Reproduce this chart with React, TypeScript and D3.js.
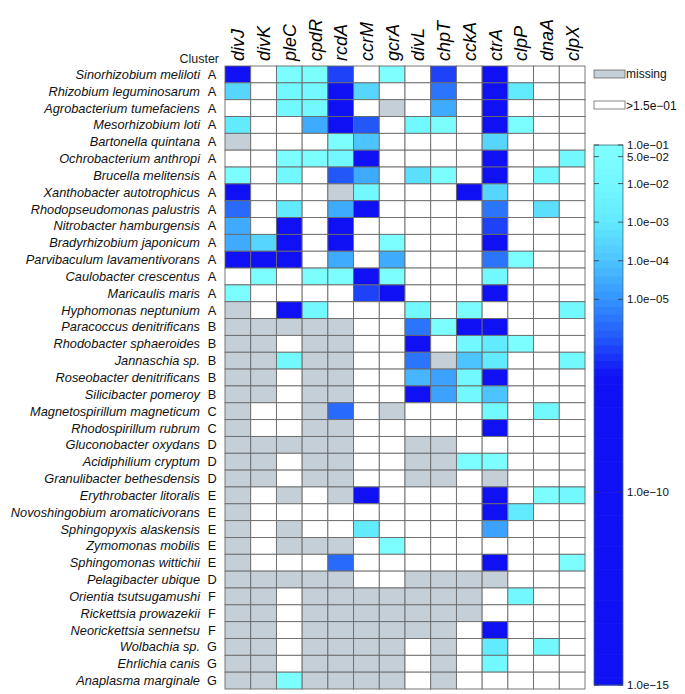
import React from "react";
import * as d3 from "d3";

const genes = ["divJ", "divK", "pleC", "cpdR", "rcdA", "ccrM", "gcrA", "divL", "chpT", "cckA", "ctrA", "clpP", "dnaA", "clpX"];

const species = [
  "Sinorhizobium meliloti", "Rhizobium leguminosarum", "Agrobacterium tumefaciens", "Mesorhizobium loti",
  "Bartonella quintana", "Ochrobacterium anthropi", "Brucella melitensis", "Xanthobacter autotrophicus",
  "Rhodopseudomonas palustris", "Nitrobacter hamburgensis", "Bradyrhizobium japonicum", "Parvibaculum lavamentivorans",
  "Caulobacter crescentus", "Maricaulis maris", "Hyphomonas neptunium", "Paracoccus denitrificans",
  "Rhodobacter sphaeroides", "Jannaschia sp.", "Roseobacter denitrificans", "Silicibacter pomeroy",
  "Magnetospirillum magneticum", "Rhodospirillum rubrum", "Gluconobacter oxydans", "Acidiphilium cryptum",
  "Granulibacter bethesdensis", "Erythrobacter litoralis", "Novoshingobium aromaticivorans", "Sphingopyxis alaskensis",
  "Zymomonas mobilis", "Sphingomonas wittichii", "Pelagibacter ubique", "Orientia tsutsugamushi",
  "Rickettsia prowazekii", "Neorickettsia sennetsu", "Wolbachia sp.", "Ehrlichia canis", "Anaplasma marginale",
];

const clusters = [
  "A", "A", "A", "A", "A", "A", "A", "A", "A", "A", "A", "A", "A", "A", "A",
  "B", "B", "B", "B", "B", "C", "C", "D", "D", "D", "E", "E", "E", "E", "E",
  "D", "F", "F", "F", "G", "G", "G",
];

// M = gene missing, _ = not significant (> 1.5e-01), numbers = p-values
const M = "m";
const _ = null;
const pvalues: (number | string | null)[][] = [
  [1e-10, _, 5e-2, 5e-2, 5e-7, _, 9e-2, _, 5e-7, _, 1e-10, _, _, _],
  [3e-4, _, 1e-2, 1e-2, 1e-10, 3e-4, _, _, 3e-6, _, 1e-10, 1e-3, _, _],
  [_, _, 1e-2, 1e-2, 1e-10, _, M, _, 3e-5, _, 1e-10, _, _, _],
  [1e-3, _, _, 3e-5, 1e-10, 1e-6, _, 1e-2, 5e-2, _, 1e-10, 5e-2, _, _],
  [M, _, _, _, 5e-2, 1e-4, _, _, _, _, 3e-4, _, _, _],
  [_, _, 5e-2, 5e-2, 1e-2, 1e-10, _, _, _, _, 1e-10, _, _, 1e-2],
  [5e-2, _, 1e-2, _, 1e-6, 3e-5, _, 5e-4, 5e-2, _, 1e-10, _, 1e-2, _],
  [1e-10, _, _, _, M, 1e-2, _, _, _, 1e-10, 3e-4, _, _, _],
  [2e-6, _, 1e-3, _, 3e-5, 1e-7, _, _, _, _, 3e-6, _, 5e-4, _],
  [3e-5, _, 1e-10, _, 1e-10, _, _, _, _, _, 5e-7, _, _, _],
  [3e-5, 3e-4, 1e-10, _, 1e-10, _, 5e-2, _, _, _, 1e-10, _, _, _],
  [1e-10, 1e-8, 1e-10, _, 3e-5, _, 3e-5, _, _, _, 3e-6, 5e-2, _, _],
  [_, 5e-2, _, 5e-2, 5e-2, 1e-10, 5e-2, _, _, _, 1e-2, _, _, _],
  [5e-2, _, _, _, _, 5e-7, 1e-10, _, _, _, 1e-10, _, _, _],
  [M, _, 1e-10, 1e-2, _, _, _, 1e-2, _, 3e-2, _, _, _, 1e-2],
  [M, M, M, M, M, _, _, 3e-6, 5e-2, 1e-10, 1e-10, _, _, _],
  [M, M, _, M, M, _, _, 1e-10, _, 1e-2, 1e-3, 5e-2, _, _],
  [M, M, 1e-2, M, M, _, _, 3e-6, M, 1e-4, 1e-3, _, _, 1e-2],
  [M, M, _, M, M, _, _, 5e-5, 2e-5, 1e-2, 1e-10, _, _, _],
  [M, M, _, M, M, _, _, 1e-10, 2e-5, 1e-2, 1e-4, _, _, _],
  [M, _, _, M, 2e-6, _, M, _, _, _, 1e-2, _, 1e-2, _],
  [M, _, _, M, M, _, _, _, _, _, 1e-10, _, _, _],
  [M, M, M, M, M, _, _, M, M, _, _, _, _, _],
  [M, M, _, M, M, _, _, M, M, 5e-2, 5e-2, _, _, _],
  [M, M, _, M, M, _, _, M, M, _, M, _, _, _],
  [M, _, M, _, M, 1e-10, _, _, _, _, 1e-10, _, 5e-2, 1e-2],
  [M, _, _, _, _, _, _, _, _, _, 1e-10, 1e-3, _, _],
  [M, _, M, _, _, 1e-3, _, _, _, _, 2e-5, _, _, _],
  [M, _, M, M, M, _, 5e-2, _, _, _, _, _, _, _],
  [M, _, _, _, 2e-6, _, _, _, _, _, 1e-10, _, _, 5e-2],
  [M, M, M, M, M, _, _, M, M, M, M, _, _, _],
  [M, M, _, M, M, M, M, M, M, M, _, 1e-2, _, _],
  [M, M, _, M, M, M, M, M, M, M, _, _, _, _],
  [M, M, _, M, M, M, M, M, M, _, 1e-10, _, _, _],
  [M, M, _, M, M, M, M, _, M, _, 1e-3, _, 1e-2, _],
  [M, M, _, M, M, M, M, _, M, _, 1e-2, _, _, _],
  [M, M, 5e-2, M, M, M, M, _, M, _, _, _, _, _],
];

const legendTicks = [1e-1, 5e-2, 1e-2, 1e-3, 1e-4, 1e-5, 1e-10, 1e-15];

const FONT = "'Liberation Sans', Arial, Helvetica, sans-serif";
const MISSING = "#c4cfd8";

// cyan -> blue, on log10(p)
const color = d3
  .scaleLinear<string>()
  .domain([-1, -2, -3, -4, -5, -6, -7])
  .range(["#80ffff", "#72f8ff", "#62eaff", "#4cc4ff", "#3494ff", "#2258fa", "#1010f5"])
  .clamp(true);

function cellFill(v: number | string | null) {
  if (v === M) return MISSING;
  if (v == null) return "#ffffff";
  return color(Math.log10(v as number));
}

export default function App() {
  const width = 685;
  const height = 694;

  const x = d3.scaleBand().domain(genes).range([225, 585]);
  const y = d3.scaleBand().domain(species).range([66, 689]);

  // colorbar
  const barX = 594;
  const barW = 29;
  const yLeg = d3.scaleLog().domain([1e-1, 1e-15]).range([145, 685]);
  const bands = d3.range(0, 70).map((i) => -1 - (14 * i) / 70);
  const bandH = 540 / 70;

  return (
    <svg width={width} height={height} style={{ position: "absolute", left: 0, top: 0, background: "#fff" }} fontFamily={FONT}>
      {/* column headers */}
      {genes.map((g) => {
        const cx = (x(g) as number) + x.bandwidth() / 2 + 6.5;
        return (
          <text key={g} transform={`translate(${cx},61) rotate(-90)`} fontSize={18} fontStyle="italic" fill="#000">
            {g}
          </text>
        );
      })}
      <text x={219} y={63} textAnchor="end" fontSize={12.5} fill="#222">Cluster</text>

      {/* row labels */}
      {species.map((s, i) => {
        const cy = (y(s) as number) + y.bandwidth() / 2 + 4.5;
        return (
          <g key={s}>
            <text x={200} y={cy} textAnchor="end" fontSize={12.8} fontStyle="italic" fill="#111">{s}</text>
            <text x={212} y={cy} textAnchor="middle" fontSize={12.8} fill="#111">{clusters[i]}</text>
          </g>
        );
      })}

      {/* cells */}
      <g>
        {pvalues.map((row, i) =>
          row.map((v, j) => (
            <rect
              key={`${i}-${j}`}
              x={x(genes[j])}
              y={y(species[i])}
              width={x.bandwidth()}
              height={y.bandwidth()}
              fill={cellFill(v)}
              stroke="#6a6a6a"
              strokeWidth={0.9}
            />
          ))
        )}
      </g>

      {/* legend: missing / not significant */}
      <rect x={barX} y={70} width={31} height={8} fill={MISSING} stroke="#555" strokeWidth={0.7} />
      <text x={626} y={78} fontSize={12} fill="#111">missing</text>
      <rect x={barX} y={101} width={31} height={8} fill="#fff" stroke="#555" strokeWidth={0.7} />
      <text x={626} y={109.5} fontSize={12} fill="#111">&gt;1.5e−01</text>

      {/* colorbar */}
      {bands.map((b, i) => (
        <rect key={i} x={barX} y={145 + i * bandH} width={barW} height={bandH + 0.6} fill={color(b - 7 / 70)} />
      ))}
      <rect x={barX} y={145} width={barW} height={540} fill="none" stroke="#3a6f86" strokeWidth={0.8} />
      {legendTicks.map((t) => {
        const ty = yLeg(t);
        return (
          <g key={t}>
            <line x1={barX} x2={barX + 5} y1={ty} y2={ty} stroke="#333" strokeWidth={0.8} />
            <line x1={barX + barW - 5} x2={barX + barW} y1={ty} y2={ty} stroke="#333" strokeWidth={0.8} />
            <text x={627} y={ty + 4} fontSize={11.5} fill="#111">
              {t.toExponential(1).replace(/e-(\d)$/, "e-0$1").replace("-", "−")}
            </text>
          </g>
        );
      })}
    </svg>
  );
}
